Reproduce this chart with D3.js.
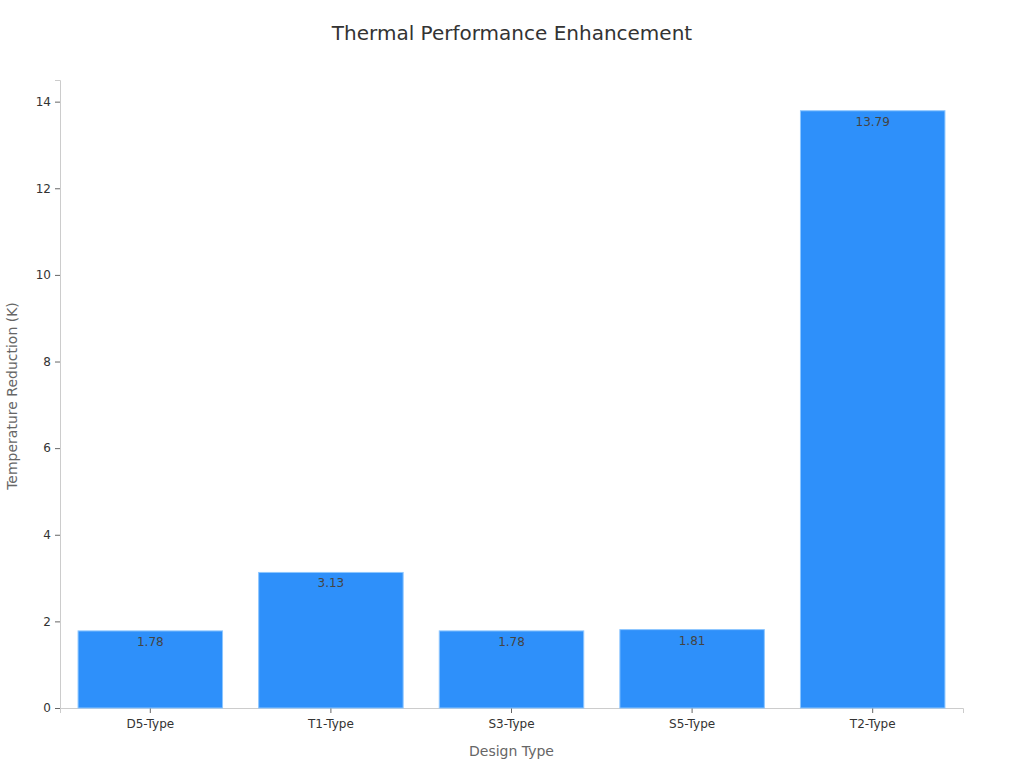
<!DOCTYPE html>
<html><head><meta charset="utf-8">
<script src="https://cdn.jsdelivr.net/npm/d3@7"></script>
<style>body{margin:0;background:#fff;} svg{display:block;font-family:"DejaVu Sans",sans-serif;}</style>
</head><body>
<svg id="c" width="1024" height="768"></svg>
<script>
const categories = ["D5-Type","T1-Type","S3-Type","S5-Type","T2-Type"];
const values = [1.78, 3.13, 1.78, 1.81, 13.79];
const yTicks = [0,2,4,6,8,10,12,14];

const svg = d3.select("#c");
const m = {l:60, r:963, t:80, b:708};
const x = d3.scaleBand().domain(categories).range([m.l, m.r]).paddingInner(0.2).paddingOuter(0.1);
const y = d3.scaleLinear().domain([0, 14.5]).range([m.b, m.t]);

svg.append("text").attr("x",512).attr("y",40).attr("text-anchor","middle")
  .attr("font-size",20).attr("fill","#333").text("Thermal Performance Enhancement");

const ya = svg.append("g").attr("transform",`translate(${m.l},0)`)
  .call(d3.axisLeft(y).tickValues(yTicks).tickSize(5).tickPadding(4));
ya.select(".domain").attr("stroke","#ccc");
ya.selectAll(".tick line").attr("stroke","#666");
ya.selectAll(".tick text").attr("font-size",12).attr("fill","#333").attr("font-family","DejaVu Sans");

const xa = svg.append("g").attr("transform",`translate(0,${m.b})`)
  .call(d3.axisBottom(x).tickSize(5).tickPadding(6));
xa.select(".domain").attr("stroke","#ccc");
xa.selectAll(".tick line").attr("stroke","#666");
xa.selectAll(".tick text").attr("font-size",12).attr("fill","#333").attr("font-family","DejaVu Sans");

svg.append("g").selectAll("rect").data(values).join("rect")
  .attr("x",(d,i)=>x(categories[i])).attr("width",x.bandwidth())
  .attr("y",d=>y(d)).attr("height",d=>y(0)-y(d))
  .attr("fill","#2e90fa").attr("stroke","#8cc6ff").attr("stroke-width",1);

svg.append("g").selectAll("text").data(values).join("text")
  .attr("x",(d,i)=>x(categories[i])+x.bandwidth()/2).attr("y",d=>y(d)+15)
  .attr("text-anchor","middle").attr("font-size",12).attr("fill","#444")
  .text(d=>d.toFixed(2));

svg.append("text").attr("x",(m.l+m.r)/2).attr("y",756).attr("text-anchor","middle")
  .attr("font-size",14).attr("fill","#666").text("Design Type");
svg.append("text").attr("transform",`translate(17,${(m.t+m.b)/2+2}) rotate(-90)`).attr("text-anchor","middle")
  .attr("font-size",14).attr("fill","#666").text("Temperature Reduction (K)");
</script>
</body></html>
